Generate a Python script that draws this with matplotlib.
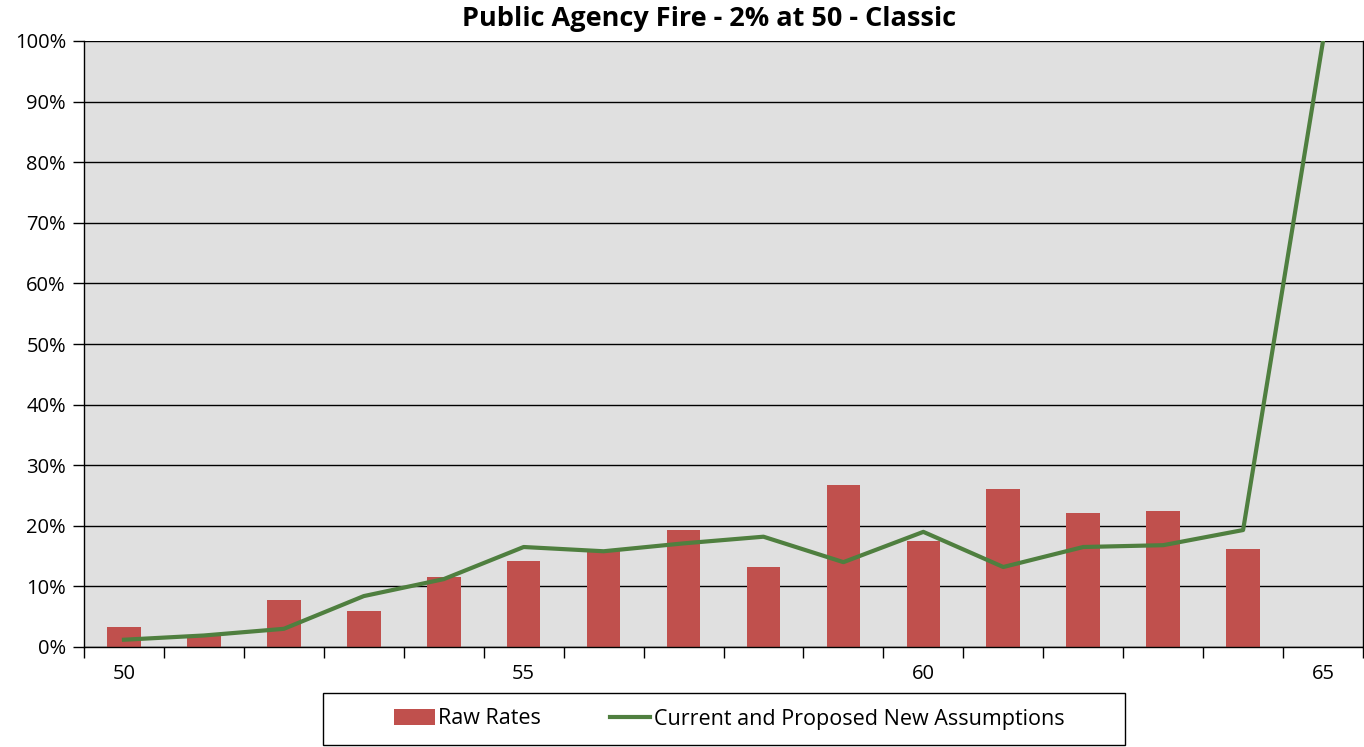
import matplotlib.pyplot as plt
import matplotlib as mpl
from matplotlib.patches import Rectangle
from matplotlib.ticker import FuncFormatter, FixedLocator

mpl.rcParams["font.family"] = ["Open Sans", "DejaVu Sans"]

# 数据
ages = [50, 51, 52, 53, 54, 55, 56, 57, 58, 59, 60, 61, 62, 63, 64, 65]
raw_rates = [0.033, 0.019, 0.078, 0.060, 0.116, 0.142, 0.159, 0.193, 0.132,
             0.268, 0.175, 0.261, 0.221, 0.224, 0.162, 0.0]
assumptions = [0.012, 0.019, 0.030, 0.084, 0.112, 0.165, 0.158, 0.171, 0.182,
               0.140, 0.190, 0.132, 0.165, 0.168, 0.193, 1.00]
label_ages = [50, 55, 60, 65]

BAR_COLOR = "#C0504D"
LINE_COLOR = "#4F7F3F"

fig = plt.figure(figsize=(13.64, 7.47), dpi=100)
ax = fig.add_axes([84 / 1364, 1 - 647 / 747, (1363 - 84) / 1364, (647 - 41) / 747])
ax.set_facecolor("#E0E0E0")

xs = list(range(len(ages)))
bars = ax.bar(xs, raw_rates, width=0.42, color=BAR_COLOR, label="Raw Rates", zorder=2)
line, = ax.plot(xs, assumptions, color=LINE_COLOR, lw=3.0,
                label="Current and Proposed New Assumptions",
                zorder=3, solid_joinstyle="round")

ax.set_xlim(-0.5, len(ages) - 0.5)
ax.set_ylim(0, 1.0)

# y 轴
ax.set_yticks([i / 10 for i in range(11)])
ax.yaxis.set_major_formatter(FuncFormatter(lambda v, _: f"{v * 100:.0f}%"))
ax.yaxis.grid(True, color="black", lw=1.0, zorder=1)
ax.set_axisbelow(True)
ax.tick_params(axis="y", length=8, width=1, labelsize=14.5, pad=5, direction="out")

# x 轴：标签只在 50/55/60/65，刻度线在类别边界
ax.xaxis.set_major_locator(FixedLocator([ages.index(a) for a in label_ages]))
ax.set_xticklabels([str(a) for a in label_ages])
ax.xaxis.set_minor_locator(FixedLocator([i - 0.5 for i in range(len(ages) + 1)]))
ax.tick_params(axis="x", which="major", length=0, labelsize=14.5, pad=12)
ax.tick_params(axis="x", which="minor", length=8, width=1, direction="out")

for side in ["left", "bottom", "right"]:
    ax.spines[side].set_color("black")
    ax.spines[side].set_linewidth(1.0)
ax.spines["top"].set_visible(False)

fig.text(709 / 1364, 1 - 19 / 747, "Public Agency Fire - 2% at 50 - Classic",
         ha="center", va="center", fontsize=19.5, fontweight="bold")

# 图例
fig.patches.append(Rectangle((323 / 1364, 1 - 745 / 747), (1125 - 323) / 1364, (745 - 693) / 747,
                             transform=fig.transFigure, fill=False, edgecolor="black", lw=1.0))
fig.legend(handles=[bars, line], loc="center", bbox_to_anchor=(729 / 1364, 1 - 719 / 747),
           ncol=2, frameon=False, fontsize=15.5, handlelength=1.9, handletextpad=0.15,
           columnspacing=3.2)

fig.savefig("out.png", dpi=100)
